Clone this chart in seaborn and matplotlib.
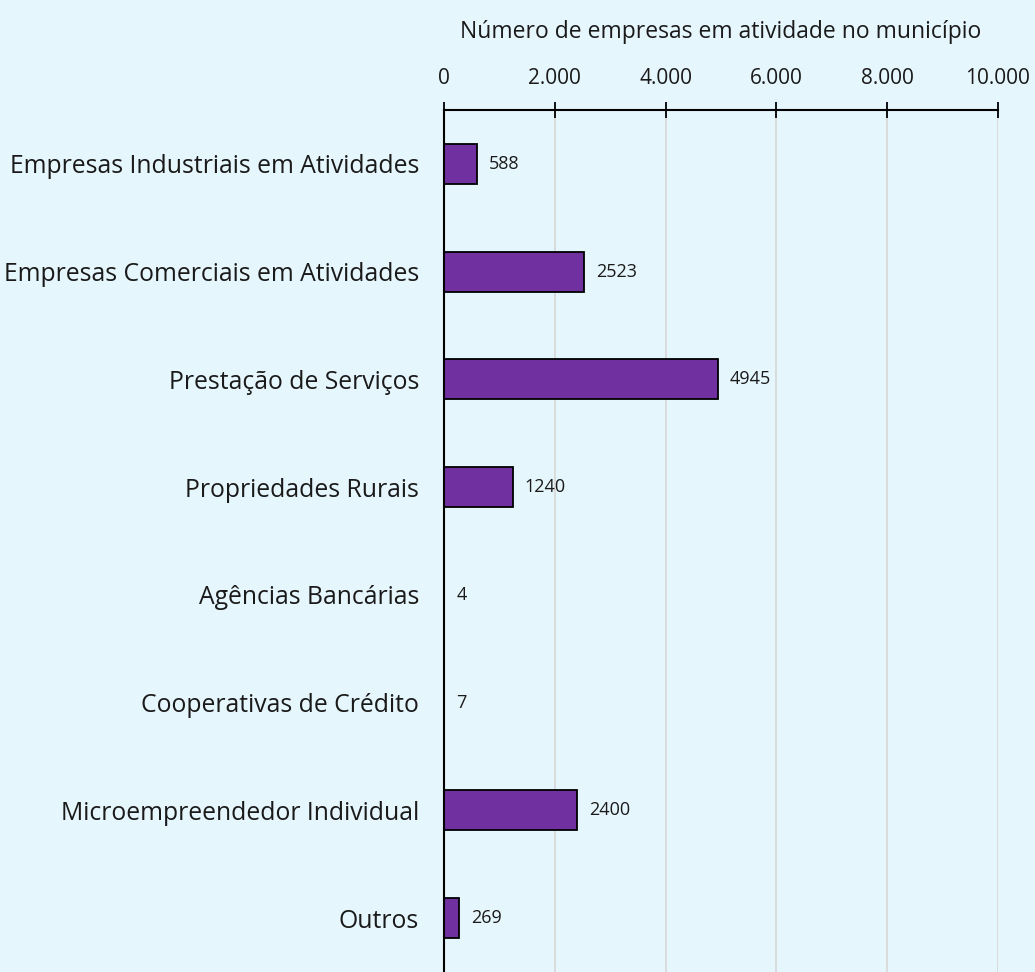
import matplotlib
matplotlib.use("Agg")
import matplotlib.pyplot as plt
import matplotlib.ticker as mticker
import seaborn as sns
import pandas as pd

categories = [
    "Empresas Industriais em Atividades",
    "Empresas Comerciais em Atividades",
    "Prestação de Serviços",
    "Propriedades Rurais",
    "Agências Bancárias",
    "Cooperativas de Crédito",
    "Microempreendedor Individual",
    "Outros",
]
values = [588, 2523, 4945, 1240, 4, 7, 2400, 269]
ticks = [0, 2000, 4000, 6000, 8000, 10000]
title = "Número de empresas em atividade no município"

bg = "#E6F6FD"
sns.set_theme(style="white")
plt.rcParams["font.family"] = ["Open Sans", "DejaVu Sans"]

df = pd.DataFrame({"cat": categories, "val": values})

fig = plt.figure(figsize=(10.35, 9.72), dpi=100, facecolor=bg)
ax = fig.add_axes([444 / 1035, 0.0, 554 / 1035, (972 - 110) / 972])
ax.set_facecolor(bg)

sns.barplot(data=df, x="val", y="cat", orient="h", color="#7030A0",
            edgecolor="black", linewidth=1.3, width=0.37, saturation=1, ax=ax, zorder=3)

ax.set_xlim(0, 10000)
ax.set_ylim(7.5, -0.5)
ax.set_xticks(ticks)
ax.xaxis.set_major_formatter(mticker.FuncFormatter(lambda v, p: f"{int(v):,}".replace(",", ".")))
ax.xaxis.tick_top()
ax.xaxis.set_label_position("top")
ax.tick_params(axis="x", direction="inout", length=12, width=1.3, color="black",
               labelsize=15, pad=9, labelcolor="#1a1a1a")
ax.tick_params(axis="y", length=0, labelsize=17.8, pad=18, labelcolor="#1a1a1a")
ax.set_xlabel(title, fontsize=16.5, labelpad=22, color="#1a1a1a")
ax.set_ylabel("")

ax.grid(axis="x", color="#D9D9D9", linewidth=1.3, zorder=0)
ax.grid(axis="y", visible=False)
for s in ["right", "bottom"]:
    ax.spines[s].set_visible(False)
for s in ["top", "left"]:
    ax.spines[s].set_color("black")
    ax.spines[s].set_linewidth(1.5)
    ax.spines[s].set_zorder(5)

for i, v in enumerate(values):
    ax.annotate(str(v), xy=(v, i), xytext=(12, 0), textcoords="offset pixels",
                ha="left", va="center", fontsize=13, color="#1a1a1a")

fig.savefig("out.png", dpi=100, facecolor=bg)
